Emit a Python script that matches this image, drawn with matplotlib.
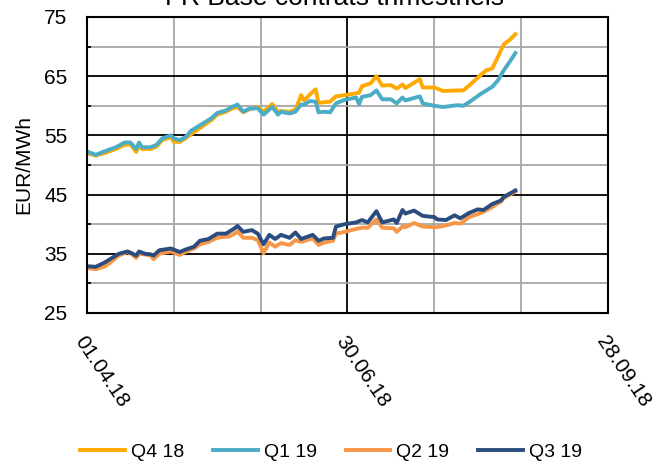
import numpy as np
import pandas as pd
import matplotlib
matplotlib.use('Agg')
import matplotlib.pyplot as plt

plt.rcParams['font.family'] = ['Liberation Sans', 'DejaVu Sans']

# titre et series
title = 'FR Base contrats trimestriels'
series_names = ['Q4 18', 'Q1 19', 'Q2 19', 'Q3 19']
colors = ['#FFAA00', '#4BACC6', '#F79646', '#2B4C7E']

# Q4 18 / Q1 19 (courbes hautes)
upper_dates = ['04-01', '04-04', '04-07', '04-11', '04-14', '04-16', '04-18', '04-19',
               '04-20', '04-23', '04-25', '04-27', '04-30', '05-01', '05-03', '05-05',
               '05-07', '05-11', '05-14', '05-16', '05-19', '05-21', '05-23', '05-25',
               '05-27', '05-30', '06-01', '06-04', '06-06', '06-07', '06-10', '06-12',
               '06-14', '06-15', '06-17', '06-19', '06-20', '06-22', '06-24', '06-26',
               '06-29', '07-03', '07-04', '07-05', '07-08', '07-10', '07-12', '07-15',
               '07-17', '07-19', '07-20', '07-25', '07-26', '07-30', '08-02', '08-07',
               '08-09', '08-11', '08-15', '08-17', '08-19', '08-21', '08-23', '08-25',
               '08-27']
q4_18 = [52.0, 51.6, 52.0, 52.7, 53.4, 53.5, 52.2, 53.3,
         52.7, 52.7, 53.1, 54.2, 54.7, 53.9, 53.9, 54.5,
         55.2, 56.6, 57.6, 58.5, 59.0, 59.5, 59.8, 58.9,
         59.4, 59.8, 59.0, 60.3, 59.0, 59.1, 59.0, 59.3,
         61.8, 60.9, 61.9, 62.8, 60.5, 60.6, 60.7, 61.6,
         61.8, 62.1, 62.2, 63.3, 63.8, 65.0, 63.4, 63.5,
         62.9, 63.6, 63.0, 64.5, 63.1, 63.1, 62.5, 62.6,
         62.6, 63.4, 65.2, 66.0, 66.3, 68.3, 70.4, 71.1,
         72.1]
q1_19 = [52.3, 51.7, 52.3, 53.0, 53.8, 53.8, 52.7, 53.8,
         53.0, 53.0, 53.4, 54.5, 55.0, 54.5, 54.2, 54.7,
         55.8, 57.0, 57.9, 58.8, 59.2, 59.8, 60.2, 59.0,
         59.5, 59.6, 58.5, 59.8, 58.5, 59.0, 58.7, 59.0,
         60.2, 60.2, 60.8, 60.7, 58.9, 59.0, 58.9, 60.4,
         61.0, 61.4, 60.3, 61.5, 61.8, 62.6, 61.1, 61.1,
         60.4, 61.4, 60.9, 61.6, 60.4, 60.0, 59.8, 60.1,
         60.0, 60.6, 62.0, 62.6, 63.2, 64.3, 66.0, 67.4,
         68.9]

# Q2 19 / Q3 19 (courbes basses)
lower_dates = ['04-01', '04-04', '04-07', '04-09', '04-12', '04-15', '04-16', '04-18',
               '04-19', '04-21', '04-23', '04-24', '04-26', '04-30', '05-03', '05-05',
               '05-08', '05-10', '05-13', '05-16', '05-19', '05-20', '05-22', '05-23',
               '05-25', '05-28', '05-30', '06-01', '06-03', '06-05', '06-07', '06-10',
               '06-12', '06-14', '06-18', '06-20', '06-22', '06-25', '06-26', '06-29',
               '07-03', '07-05', '07-07', '07-10', '07-12', '07-16', '07-17', '07-19',
               '07-20', '07-23', '07-26', '07-30', '07-31', '08-03', '08-06', '08-08',
               '08-11', '08-14', '08-16', '08-19', '08-22', '08-23', '08-27']
q2_19 = [32.6, 32.4, 32.8, 33.5, 34.7, 35.3, 35.1, 34.3,
         35.0, 34.9, 34.7, 34.1, 35.0, 35.4, 34.8, 35.3,
         35.9, 36.6, 37.0, 37.7, 37.9, 37.9, 38.4, 38.8,
         37.7, 37.7, 37.3, 35.1, 36.9, 36.2, 36.8, 36.5,
         37.3, 37.0, 37.6, 36.5, 36.9, 37.2, 38.4, 38.7,
         39.2, 39.4, 39.4, 40.8, 39.4, 39.3, 38.7, 39.6,
         39.5, 40.2, 39.6, 39.5, 39.5, 39.8, 40.2, 40.1,
         41.2, 41.7, 42.1, 42.9, 43.8, 44.4, 45.5]
q3_19 = [32.9, 32.8, 33.5, 34.1, 35.0, 35.4, 35.2, 34.7,
         35.4, 35.0, 34.9, 34.7, 35.6, 35.9, 35.3, 35.7,
         36.2, 37.2, 37.5, 38.4, 38.4, 38.7, 39.3, 39.7,
         38.7, 39.0, 38.4, 36.6, 38.2, 37.5, 38.2, 37.7,
         38.6, 37.5, 38.2, 37.2, 37.6, 37.7, 39.6, 40.0,
         40.3, 40.7, 40.3, 42.2, 40.3, 40.8, 40.2, 42.4,
         41.8, 42.3, 41.4, 41.2, 40.8, 40.7, 41.5, 41.0,
         41.9, 42.5, 42.4, 43.4, 44.0, 44.6, 45.7]

x_ticks = ['2018-04-01', '2018-06-30', '2018-09-28']
x_tick_labels = ['01.04.18', '30.06.18', '28.09.18']
x_minor = ['2018-05-01', '2018-05-31', '2018-07-30', '2018-08-29']
y_major = [25, 35, 45, 55, 65, 75]
y_minor = [30, 40, 50, 60, 70]


def to_dates(days):
    return pd.to_datetime(['2018-' + d for d in days])


fig = plt.figure(figsize=(6.58, 4.63), dpi=100)
ax = fig.add_axes([0.1322, 0.324, 0.7918, 0.6393])

series = [(upper_dates, q4_18), (upper_dates, q1_19), (lower_dates, q2_19), (lower_dates, q3_19)]
for (d, v), name, c in zip(series, series_names, colors):
    ax.plot(to_dates(d), v, color=c, lw=2.8, label=name, solid_joinstyle='round')

ax.set_xlim(pd.Timestamp(x_ticks[0]), pd.Timestamp(x_ticks[-1]))
ax.set_ylim(y_major[0], y_major[-1])
ax.set_xticks(pd.to_datetime(x_ticks))
ax.set_xticks(pd.to_datetime(x_minor), minor=True)
ax.set_xticklabels(x_tick_labels, rotation=-56, ha='left', va='top',
                   rotation_mode='anchor', fontsize=15)
ax.set_yticks(y_major)
ax.set_yticks(y_minor, minor=True)
ax.set_yticklabels([str(v) for v in y_major], fontsize=15)

ax.set_axisbelow(True)
ax.grid(which='major', color='black', lw=1.3)
ax.grid(which='minor', color='#A6A6A6', lw=1.3)
ax.tick_params(axis='x', which='both', length=0, pad=14)
ax.tick_params(axis='y', which='major', length=0, pad=14)
ax.tick_params(axis='y', which='minor', direction='in', length=3, width=1.3, color='black')
for s in ax.spines.values():
    s.set_color('black')
    s.set_linewidth(1.5)

ax.set_ylabel('EUR/MWh', fontsize=15, labelpad=8)
fig.text(0.508, 0.989, title, ha='center', va='baseline', fontsize=19)

fig.legend(loc='center', bbox_to_anchor=(0.503, 0.024), ncol=4, frameon=False,
           fontsize=14, handlelength=2.3, columnspacing=1.5, handletextpad=0.3)

fig.savefig('out.png', dpi=100)
